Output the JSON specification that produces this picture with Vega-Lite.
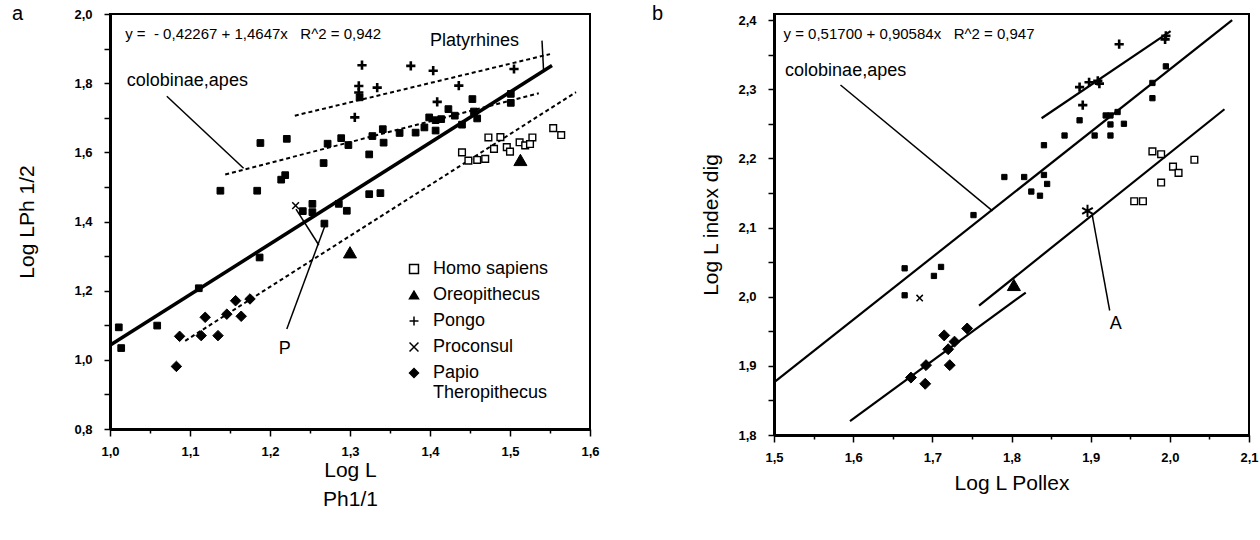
{
  "$schema": "https://vega.github.io/schema/vega-lite/v6.json",
  "background": "white",
  "padding": {"left": 10, "top": 3, "right": 5, "bottom": 5},
  "bounds": "flush",
  "spacing": 184,
  "config": {
    "view": {"stroke": "black", "strokeWidth": 2},
    "font": "Liberation Sans",
    "axis": {
      "domainColor": "black", "domainWidth": 3, "tickColor": "black", "tickWidth": 1.5,
      "labelColor": "black", "titleColor": "black", "grid": false,
      "labelFont": "Liberation Sans", "labelFontWeight": "bold", "labelFontSize": 13,
      "titleFont": "Liberation Sans", "titleFontWeight": "normal", "titleFontSize": 21,
      "labelOverlap": false, "labelFlush": false
    }
  },
  "resolve": {
    "scale": {"shape": "independent", "fill": "independent"},
    "legend": {"shape": "independent", "fill": "independent"}
  },
  "datasets": {
    "ptsA": [
      {"group": "colobinae,apes", "x": 1.011, "y": 1.094}, {"group": "colobinae,apes", "x": 1.014, "y": 1.034},
      {"group": "colobinae,apes", "x": 1.059, "y": 1.099}, {"group": "colobinae,apes", "x": 1.111, "y": 1.207},
      {"group": "colobinae,apes", "x": 1.138, "y": 1.489}, {"group": "colobinae,apes", "x": 1.184, "y": 1.489},
      {"group": "colobinae,apes", "x": 1.187, "y": 1.296}, {"group": "colobinae,apes", "x": 1.188, "y": 1.627},
      {"group": "colobinae,apes", "x": 1.221, "y": 1.639}, {"group": "colobinae,apes", "x": 1.219, "y": 1.534},
      {"group": "colobinae,apes", "x": 1.214, "y": 1.521}, {"group": "colobinae,apes", "x": 1.241, "y": 1.43},
      {"group": "colobinae,apes", "x": 1.253, "y": 1.451}, {"group": "colobinae,apes", "x": 1.253, "y": 1.427},
      {"group": "colobinae,apes", "x": 1.267, "y": 1.569}, {"group": "colobinae,apes", "x": 1.268, "y": 1.394},
      {"group": "colobinae,apes", "x": 1.272, "y": 1.625}, {"group": "colobinae,apes", "x": 1.286, "y": 1.451},
      {"group": "colobinae,apes", "x": 1.289, "y": 1.641}, {"group": "colobinae,apes", "x": 1.296, "y": 1.431},
      {"group": "colobinae,apes", "x": 1.298, "y": 1.621}, {"group": "colobinae,apes", "x": 1.312, "y": 1.759},
      {"group": "colobinae,apes", "x": 1.324, "y": 1.594}, {"group": "colobinae,apes", "x": 1.328, "y": 1.647},
      {"group": "colobinae,apes", "x": 1.324, "y": 1.479}, {"group": "colobinae,apes", "x": 1.338, "y": 1.482},
      {"group": "colobinae,apes", "x": 1.341, "y": 1.667}, {"group": "colobinae,apes", "x": 1.342, "y": 1.628},
      {"group": "colobinae,apes", "x": 1.362, "y": 1.656}, {"group": "colobinae,apes", "x": 1.382, "y": 1.657},
      {"group": "colobinae,apes", "x": 1.393, "y": 1.672}, {"group": "colobinae,apes", "x": 1.399, "y": 1.701},
      {"group": "colobinae,apes", "x": 1.407, "y": 1.693}, {"group": "colobinae,apes", "x": 1.414, "y": 1.696},
      {"group": "colobinae,apes", "x": 1.407, "y": 1.663}, {"group": "colobinae,apes", "x": 1.423, "y": 1.725},
      {"group": "colobinae,apes", "x": 1.431, "y": 1.706}, {"group": "colobinae,apes", "x": 1.44, "y": 1.68},
      {"group": "colobinae,apes", "x": 1.453, "y": 1.754}, {"group": "colobinae,apes", "x": 1.455, "y": 1.718},
      {"group": "colobinae,apes", "x": 1.459, "y": 1.698}, {"group": "colobinae,apes", "x": 1.501, "y": 1.769},
      {"group": "colobinae,apes", "x": 1.501, "y": 1.743},
      {"group": "Pongo", "x": 1.315, "y": 1.852}, {"group": "Pongo", "x": 1.376, "y": 1.85},
      {"group": "Pongo", "x": 1.404, "y": 1.836}, {"group": "Pongo", "x": 1.505, "y": 1.841},
      {"group": "Pongo", "x": 1.311, "y": 1.792}, {"group": "Pongo", "x": 1.311, "y": 1.773},
      {"group": "Pongo", "x": 1.334, "y": 1.787}, {"group": "Pongo", "x": 1.436, "y": 1.793},
      {"group": "Pongo", "x": 1.409, "y": 1.746}, {"group": "Pongo", "x": 1.306, "y": 1.701},
      {"group": "Homo sapiens", "x": 1.44, "y": 1.6}, {"group": "Homo sapiens", "x": 1.448, "y": 1.576},
      {"group": "Homo sapiens", "x": 1.459, "y": 1.578}, {"group": "Homo sapiens", "x": 1.469, "y": 1.581},
      {"group": "Homo sapiens", "x": 1.473, "y": 1.643}, {"group": "Homo sapiens", "x": 1.488, "y": 1.644},
      {"group": "Homo sapiens", "x": 1.48, "y": 1.61}, {"group": "Homo sapiens", "x": 1.496, "y": 1.615},
      {"group": "Homo sapiens", "x": 1.5, "y": 1.602}, {"group": "Homo sapiens", "x": 1.512, "y": 1.629},
      {"group": "Homo sapiens", "x": 1.519, "y": 1.62}, {"group": "Homo sapiens", "x": 1.528, "y": 1.643},
      {"group": "Homo sapiens", "x": 1.525, "y": 1.624}, {"group": "Homo sapiens", "x": 1.554, "y": 1.67},
      {"group": "Homo sapiens", "x": 1.564, "y": 1.65},
      {"group": "Oreopithecus", "x": 1.513, "y": 1.578}, {"group": "Oreopithecus", "x": 1.3, "y": 1.311},
      {"group": "Proconsul", "x": 1.232, "y": 1.446},
      {"group": "Papio Theropithecus", "x": 1.087, "y": 1.068}, {"group": "Papio Theropithecus", "x": 1.083, "y": 0.981},
      {"group": "Papio Theropithecus", "x": 1.114, "y": 1.07}, {"group": "Papio Theropithecus", "x": 1.135, "y": 1.07},
      {"group": "Papio Theropithecus", "x": 1.119, "y": 1.123}, {"group": "Papio Theropithecus", "x": 1.146, "y": 1.132},
      {"group": "Papio Theropithecus", "x": 1.157, "y": 1.171}, {"group": "Papio Theropithecus", "x": 1.164, "y": 1.126},
      {"group": "Papio Theropithecus", "x": 1.175, "y": 1.176}
    ],
    "ptsB": [
      {"group": "colobinae,apes", "x": 1.995, "y": 2.333}, {"group": "colobinae,apes", "x": 1.978, "y": 2.309},
      {"group": "colobinae,apes", "x": 1.978, "y": 2.287}, {"group": "colobinae,apes", "x": 1.919, "y": 2.262},
      {"group": "colobinae,apes", "x": 1.925, "y": 2.262}, {"group": "colobinae,apes", "x": 1.934, "y": 2.267},
      {"group": "colobinae,apes", "x": 1.925, "y": 2.249}, {"group": "colobinae,apes", "x": 1.942, "y": 2.25},
      {"group": "colobinae,apes", "x": 1.886, "y": 2.255}, {"group": "colobinae,apes", "x": 1.867, "y": 2.233},
      {"group": "colobinae,apes", "x": 1.905, "y": 2.233}, {"group": "colobinae,apes", "x": 1.925, "y": 2.233},
      {"group": "colobinae,apes", "x": 1.841, "y": 2.219}, {"group": "colobinae,apes", "x": 1.791, "y": 2.173},
      {"group": "colobinae,apes", "x": 1.816, "y": 2.173}, {"group": "colobinae,apes", "x": 1.841, "y": 2.176},
      {"group": "colobinae,apes", "x": 1.845, "y": 2.163}, {"group": "colobinae,apes", "x": 1.825, "y": 2.152},
      {"group": "colobinae,apes", "x": 1.836, "y": 2.146}, {"group": "colobinae,apes", "x": 1.752, "y": 2.118},
      {"group": "colobinae,apes", "x": 1.665, "y": 2.041}, {"group": "colobinae,apes", "x": 1.711, "y": 2.043},
      {"group": "colobinae,apes", "x": 1.702, "y": 2.03}, {"group": "colobinae,apes", "x": 1.665, "y": 2.002},
      {"group": "Pongo", "x": 1.936, "y": 2.365}, {"group": "Pongo", "x": 1.995, "y": 2.377},
      {"group": "Pongo", "x": 1.994, "y": 2.372}, {"group": "Pongo", "x": 1.886, "y": 2.303},
      {"group": "Pongo", "x": 1.898, "y": 2.31}, {"group": "Pongo", "x": 1.909, "y": 2.312},
      {"group": "Pongo", "x": 1.911, "y": 2.308}, {"group": "Pongo", "x": 1.89, "y": 2.277},
      {"group": "Homo sapiens", "x": 1.978, "y": 2.21}, {"group": "Homo sapiens", "x": 1.989, "y": 2.206},
      {"group": "Homo sapiens", "x": 2.004, "y": 2.188}, {"group": "Homo sapiens", "x": 2.011, "y": 2.179},
      {"group": "Homo sapiens", "x": 2.031, "y": 2.198}, {"group": "Homo sapiens", "x": 1.989, "y": 2.165},
      {"group": "Homo sapiens", "x": 1.955, "y": 2.138}, {"group": "Homo sapiens", "x": 1.966, "y": 2.138},
      {"group": "Oreopithecus", "x": 1.803, "y": 2.017},
      {"group": "Proconsul", "x": 1.684, "y": 1.998},
      {"group": "A", "x": 1.896, "y": 2.124},
      {"group": "Papio Theropithecus", "x": 1.673, "y": 1.883}, {"group": "Papio Theropithecus", "x": 1.692, "y": 1.901},
      {"group": "Papio Theropithecus", "x": 1.691, "y": 1.874}, {"group": "Papio Theropithecus", "x": 1.715, "y": 1.944},
      {"group": "Papio Theropithecus", "x": 1.72, "y": 1.924}, {"group": "Papio Theropithecus", "x": 1.728, "y": 1.935},
      {"group": "Papio Theropithecus", "x": 1.722, "y": 1.901}, {"group": "Papio Theropithecus", "x": 1.744, "y": 1.954}
    ],
    "linesA": [
      {"seg": "fit", "kind": "fit", "x": 1.0, "y": 1.042}, {"seg": "fit", "kind": "fit", "x": 1.5525, "y": 1.851},
      {"seg": "platy", "kind": "dash", "x": 1.231, "y": 1.706}, {"seg": "platy", "kind": "dash", "x": 1.55, "y": 1.884},
      {"seg": "colob", "kind": "dash", "x": 1.144, "y": 1.536}, {"seg": "colob", "kind": "dash", "x": 1.536, "y": 1.771},
      {"seg": "homo", "kind": "dash", "x": 1.094, "y": 1.055}, {"seg": "homo", "kind": "dash", "x": 1.5825, "y": 1.774},
      {"seg": "lc", "kind": "lead", "x": 1.071, "y": 1.762}, {"seg": "lc", "kind": "lead", "x": 1.167, "y": 1.554},
      {"seg": "lp", "kind": "lead", "x": 1.54, "y": 1.923}, {"seg": "lp", "kind": "lead", "x": 1.542, "y": 1.836},
      {"seg": "p1", "kind": "lead", "x": 1.221, "y": 1.089}, {"seg": "p1", "kind": "lead", "x": 1.269, "y": 1.39},
      {"seg": "p2", "kind": "lead", "x": 1.2325, "y": 1.436}, {"seg": "p2", "kind": "lead", "x": 1.261, "y": 1.332}
    ],
    "linesB": [
      {"seg": "fit", "kind": "fit", "x": 1.5, "y": 1.876}, {"seg": "fit", "kind": "fit", "x": 2.0787, "y": 2.4},
      {"seg": "pongo", "kind": "fit", "x": 1.838, "y": 2.258}, {"seg": "pongo", "kind": "fit", "x": 2.001, "y": 2.384},
      {"seg": "homo", "kind": "fit", "x": 1.759, "y": 1.987}, {"seg": "homo", "kind": "fit", "x": 2.069, "y": 2.271},
      {"seg": "papio", "kind": "fit", "x": 1.596, "y": 1.82}, {"seg": "papio", "kind": "fit", "x": 1.818, "y": 2.006},
      {"seg": "lc", "kind": "lead", "x": 1.584, "y": 2.306}, {"seg": "lc", "kind": "lead", "x": 1.776, "y": 2.124},
      {"seg": "la", "kind": "lead", "x": 1.902, "y": 2.118}, {"seg": "la", "kind": "lead", "x": 1.924, "y": 1.98}
    ],
    "textA": [
      {"kind": "big", "label": "a", "x": 0.8775, "y": 2.0},
      {"kind": "eq", "label": "y =\u00a0 - 0,42267 + 1,4647x \u00a0 R^2 = 0,942", "x": 1.019, "y": 1.942},
      {"kind": "label", "label": "colobinae,apes", "x": 1.021, "y": 1.807},
      {"kind": "label", "label": "Platyrhines", "x": 1.4, "y": 1.923},
      {"kind": "label", "label": "P", "x": 1.211, "y": 1.031}
    ],
    "textB": [
      {"kind": "big", "label": "b", "x": 1.346, "y": 2.4087},
      {"kind": "eq", "label": "y = 0,51700 + 0,90584x \u00a0 R^2 = 0,947", "x": 1.512, "y": 2.38},
      {"kind": "label", "label": "colobinae,apes", "x": 1.514, "y": 2.327},
      {"kind": "label", "label": "A", "x": 1.924, "y": 1.96}
    ]
  },
  "hconcat": [
    {
      "width": 480,
      "height": 415,
      "encoding": {
        "x": {"field": "x", "type": "quantitative",
          "scale": {"domain": [1.0, 1.6], "nice": false, "zero": false},
          "axis": {"title": ["Log L", "Ph1/1"], "titleLineHeight": 29,
            "values": [1.0, 1.05, 1.1, 1.15, 1.2, 1.25, 1.3, 1.35, 1.4, 1.45, 1.5, 1.55, 1.6],
            "labelExpr": "round(datum.value*100) % 10 == 0 ? replace(format(datum.value, '.1f'), '.', ',') : ''",
            "tickSize": {"condition": {"test": "round(datum.value*100) % 10 != 0", "value": 4}, "value": 7},
            "labelPadding": 9, "titlePadding": 1}},
        "y": {"field": "y", "type": "quantitative",
          "scale": {"domain": [0.8, 2.0], "nice": false, "zero": false},
          "axis": {"title": "Log LPh 1/2",
            "values": [0.8, 0.9, 1.0, 1.1, 1.2, 1.3, 1.4, 1.5, 1.6, 1.7, 1.8, 1.9, 2.0],
            "labelExpr": "round(datum.value*10) % 2 == 0 ? replace(format(datum.value, '.1f'), '.', ',') : ''",
            "tickSize": 6, "labelPadding": 12, "titlePadding": 36}}
      },
      "layer": [
        {"data": {"name": "linesA"}, "transform": [{"filter": "datum.kind == 'fit'"}],
          "mark": {"type": "line", "color": "black", "strokeWidth": 3.5},
          "encoding": {"detail": {"field": "seg"}}},
        {"data": {"name": "linesA"}, "transform": [{"filter": "datum.kind == 'dash'"}],
          "mark": {"type": "line", "color": "black", "strokeWidth": 2, "strokeDash": [4, 3]},
          "encoding": {"detail": {"field": "seg"}}},
        {"data": {"name": "linesA"}, "transform": [{"filter": "datum.kind == 'lead'"}],
          "mark": {"type": "line", "color": "black", "strokeWidth": 1.5},
          "encoding": {"detail": {"field": "seg"}}},
        {"data": {"name": "ptsA"},
          "encoding": {
            "shape": {"field": "group", "type": "nominal",
              "scale": {"domain": ["colobinae,apes", "Homo sapiens", "Oreopithecus", "Pongo", "Proconsul", "Papio Theropithecus", "A"],
                "range": ["square", "square", "triangle-up", "M-1,0L1,0M0,-1L0,1", "M-1,-1L1,1M-1,1L1,-1", "diamond", "M0,-1L0,1M-0.87,-0.5L0.87,0.5M-0.87,0.5L0.87,-0.5"]},
              "legend": {"orient": "none", "legendX": 295, "legendY": 246, "title": null, "padding": 0,
                "values": ["Homo sapiens", "Oreopithecus", "Pongo", "Proconsul", "Papio Theropithecus"],
                "labelFontSize": 18, "labelFont": "Liberation Sans", "labelColor": "black", "labelOffset": 10, "labelLimit": 300,
                "rowPadding": 8, "symbolSize": 80,
                "labelExpr": "datum.label == 'Papio Theropithecus' ? ['Papio', 'Theropithecus'] : datum.label",
                "encode": {"symbols": {"update": {
                  "stroke": {"value": "black"},
                  "strokeWidth": {"signal": "datum.value == 'Pongo' ? 2.5 : 1.3"},
                  "size": {"signal": "datum.value == 'Oreopithecus' ? 150 : (datum.value == 'Homo sapiens' || datum.value == 'Proconsul') ? 40 : 85"}}}}}},
            "fill": {"field": "group", "type": "nominal",
              "scale": {"domain": ["colobinae,apes", "Homo sapiens", "Oreopithecus", "Pongo", "Proconsul", "Papio Theropithecus", "A"],
                "range": ["black", "white", "black", "black", "black", "black", "black"]},
              "legend": {"orient": "none", "legendX": 295, "legendY": 246, "title": null, "padding": 0,
                "values": ["Homo sapiens", "Oreopithecus", "Pongo", "Proconsul", "Papio Theropithecus"],
                "labelFontSize": 18, "labelFont": "Liberation Sans", "labelColor": "black", "labelOffset": 10, "labelLimit": 300,
                "rowPadding": 8, "symbolSize": 80,
                "labelExpr": "datum.label == 'Papio Theropithecus' ? ['Papio', 'Theropithecus'] : datum.label",
                "encode": {"symbols": {"update": {
                  "stroke": {"value": "black"},
                  "strokeWidth": {"signal": "datum.value == 'Pongo' ? 2.5 : 1.3"},
                  "size": {"signal": "datum.value == 'Oreopithecus' ? 150 : (datum.value == 'Homo sapiens' || datum.value == 'Proconsul') ? 40 : 85"}}}}}}
          },
          "layer": [
            {"transform": [{"filter": "datum.group == 'colobinae,apes'"}],
              "mark": {"type": "point", "filled": true, "stroke": "black", "strokeWidth": 1, "size": 45, "opacity": 1}},
            {"transform": [{"filter": "datum.group == 'Homo sapiens'"}],
              "mark": {"type": "point", "filled": true, "stroke": "black", "strokeWidth": 1.4, "size": 45, "opacity": 1}},
            {"transform": [{"filter": "datum.group == 'Oreopithecus'"}],
              "mark": {"type": "point", "filled": true, "stroke": "black", "strokeWidth": 1, "size": 170, "opacity": 1}},
            {"transform": [{"filter": "datum.group == 'Pongo'"}],
              "mark": {"type": "point", "filled": true, "stroke": "black", "strokeWidth": 2.6, "size": 85, "opacity": 1}},
            {"transform": [{"filter": "datum.group == 'Proconsul'"}],
              "mark": {"type": "point", "filled": true, "stroke": "black", "strokeWidth": 1.5, "size": 45, "opacity": 1}},
            {"transform": [{"filter": "datum.group == 'Papio Theropithecus'"}],
              "mark": {"type": "point", "filled": true, "stroke": "black", "strokeWidth": 1, "size": 110, "opacity": 1}}
          ]},
        {"data": {"name": "textA"}, "transform": [{"filter": "datum.kind == 'eq'"}],
          "mark": {"type": "text", "align": "left", "baseline": "middle", "fontSize": 15, "font": "Liberation Sans", "color": "black"},
          "encoding": {"text": {"field": "label"}}},
        {"data": {"name": "textA"}, "transform": [{"filter": "datum.kind == 'label'"}],
          "mark": {"type": "text", "align": "left", "baseline": "middle", "fontSize": 18, "font": "Liberation Sans", "color": "black"},
          "encoding": {"text": {"field": "label"}}},
        {"data": {"name": "textA"}, "transform": [{"filter": "datum.kind == 'big'"}],
          "mark": {"type": "text", "align": "left", "baseline": "middle", "fontSize": 20, "font": "Liberation Sans", "color": "black"},
          "encoding": {"text": {"field": "label"}}}
      ]
    },
    {
      "width": 475,
      "height": 421,
      "encoding": {
        "x": {"field": "x", "type": "quantitative",
          "scale": {"domain": [1.5, 2.1], "nice": false, "zero": false},
          "axis": {"title": "Log L Pollex",
            "values": [1.5, 1.55, 1.6, 1.65, 1.7, 1.75, 1.8, 1.85, 1.9, 1.95, 2.0, 2.05, 2.1],
            "labelExpr": "round(datum.value*100) % 10 == 0 ? replace(format(datum.value, '.1f'), '.', ',') : ''",
            "tickSize": {"condition": {"test": "round(datum.value*100) % 10 != 0", "value": 4}, "value": 7},
            "labelPadding": 9, "titlePadding": 8}},
        "y": {"field": "y", "type": "quantitative",
          "scale": {"domain": [1.8, 2.4087], "nice": false, "zero": false},
          "axis": {"title": "Log L index dig",
            "values": [1.8, 1.85, 1.9, 1.95, 2.0, 2.05, 2.1, 2.15, 2.2, 2.25, 2.3, 2.35, 2.4],
            "labelExpr": "round(datum.value*100) % 10 == 0 ? replace(format(datum.value, '.1f'), '.', ',') : ''",
            "tickSize": 6, "labelPadding": 12, "titlePadding": 16}}
      },
      "layer": [
        {"data": {"name": "linesB"}, "transform": [{"filter": "datum.kind == 'fit'"}],
          "mark": {"type": "line", "color": "black", "strokeWidth": 2.2},
          "encoding": {"detail": {"field": "seg"}}},
        {"data": {"name": "linesB"}, "transform": [{"filter": "datum.kind == 'lead'"}],
          "mark": {"type": "line", "color": "black", "strokeWidth": 1.5},
          "encoding": {"detail": {"field": "seg"}}},
        {"data": {"name": "ptsB"},
          "encoding": {
            "shape": {"field": "group", "type": "nominal",
              "scale": {"domain": ["colobinae,apes", "Homo sapiens", "Oreopithecus", "Pongo", "Proconsul", "Papio Theropithecus", "A"],
                "range": ["square", "square", "triangle-up", "M-1,0L1,0M0,-1L0,1", "M-1,-1L1,1M-1,1L1,-1", "diamond", "M0,-1L0,1M-0.87,-0.5L0.87,0.5M-0.87,0.5L0.87,-0.5"]},
              "legend": null},
            "fill": {"field": "group", "type": "nominal",
              "scale": {"domain": ["colobinae,apes", "Homo sapiens", "Oreopithecus", "Pongo", "Proconsul", "Papio Theropithecus", "A"],
                "range": ["black", "white", "black", "black", "black", "black", "black"]},
              "legend": null}
          },
          "layer": [
            {"transform": [{"filter": "datum.group == 'colobinae,apes'"}],
              "mark": {"type": "point", "filled": true, "stroke": "black", "strokeWidth": 1, "size": 28, "opacity": 1}},
            {"transform": [{"filter": "datum.group == 'Homo sapiens'"}],
              "mark": {"type": "point", "filled": true, "stroke": "black", "strokeWidth": 1.4, "size": 45, "opacity": 1}},
            {"transform": [{"filter": "datum.group == 'Oreopithecus'"}],
              "mark": {"type": "point", "filled": true, "stroke": "black", "strokeWidth": 1, "size": 170, "opacity": 1}},
            {"transform": [{"filter": "datum.group == 'Pongo'"}],
              "mark": {"type": "point", "filled": true, "stroke": "black", "strokeWidth": 2.6, "size": 85, "opacity": 1}},
            {"transform": [{"filter": "datum.group == 'Proconsul'"}],
              "mark": {"type": "point", "filled": true, "stroke": "black", "strokeWidth": 1.5, "size": 40, "opacity": 1}},
            {"transform": [{"filter": "datum.group == 'Papio Theropithecus'"}],
              "mark": {"type": "point", "filled": true, "stroke": "black", "strokeWidth": 1, "size": 120, "opacity": 1}},
            {"transform": [{"filter": "datum.group == 'A'"}],
              "mark": {"type": "point", "filled": true, "stroke": "black", "strokeWidth": 2, "size": 150, "opacity": 1}}
          ]},
        {"data": {"name": "textB"}, "transform": [{"filter": "datum.kind == 'eq'"}],
          "mark": {"type": "text", "align": "left", "baseline": "middle", "fontSize": 15, "font": "Liberation Sans", "color": "black"},
          "encoding": {"text": {"field": "label"}}},
        {"data": {"name": "textB"}, "transform": [{"filter": "datum.kind == 'label'"}],
          "mark": {"type": "text", "align": "left", "baseline": "middle", "fontSize": 18, "font": "Liberation Sans", "color": "black"},
          "encoding": {"text": {"field": "label"}}},
        {"data": {"name": "textB"}, "transform": [{"filter": "datum.kind == 'big'"}],
          "mark": {"type": "text", "align": "left", "baseline": "middle", "fontSize": 20, "font": "Liberation Sans", "color": "black"},
          "encoding": {"text": {"field": "label"}}}
      ]
    }
  ]
}
